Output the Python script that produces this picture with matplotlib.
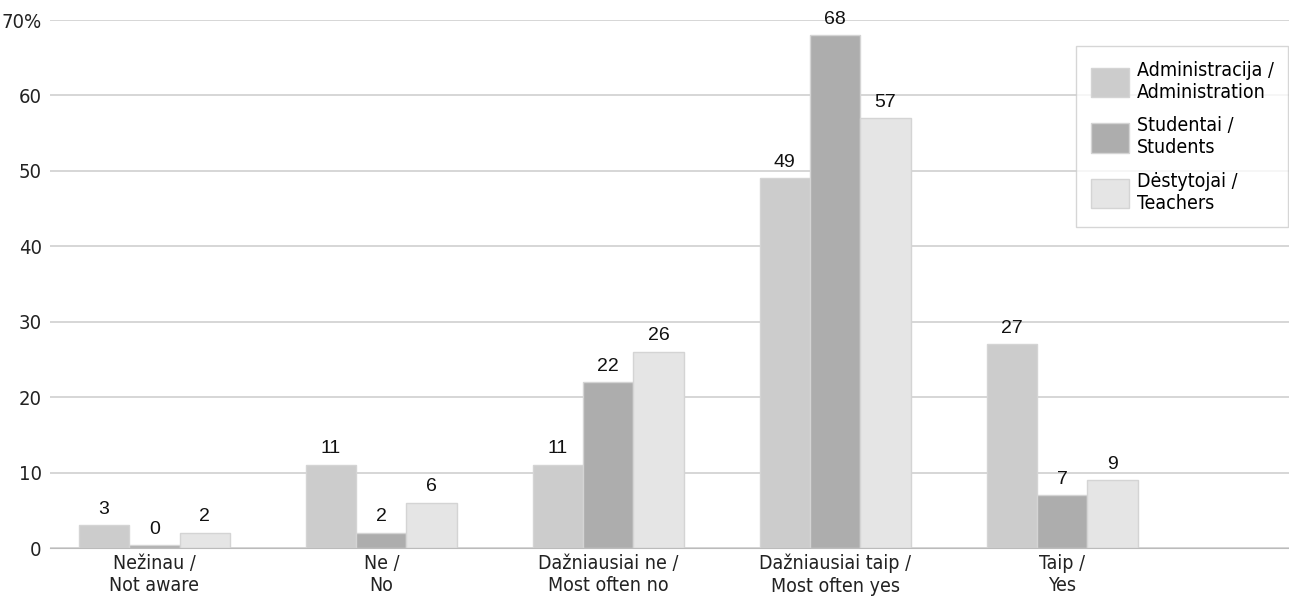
import numpy as np
import matplotlib.pyplot as plt
from matplotlib.patches import Patch

categories = ['Nežinau /\nNot aware', 'Ne /\nNo', 'Dažniausiai ne /\nMost often no',
              'Dažniausiai taip /\nMost often yes', 'Taip /\nYes']
series_names = ['Administracija /\nAdministration', 'Studentai /\nStudents', 'Dėstytojai /\nTeachers']
admin = [3, 11, 11, 49, 27]
students = [0, 2, 22, 68, 7]
teachers = [2, 6, 26, 57, 9]
colors = ['#cccccc', '#adadad', '#e5e5e5']

narrow = ['DejaVu Sans']
plt.rcParams['font.family'] = ['Liberation Sans', 'DejaVu Sans']

fig = plt.figure(figsize=(12.89, 6.05), dpi=100)
ax = fig.add_axes([50 / 1289, 1 - 548 / 605, 1 - 50 / 1289, 528 / 605])

x = np.arange(len(categories))
w = 0.222
for k, (vals, c) in enumerate(zip([admin, students, teachers], colors)):
    pos = x + (k - 1) * w
    h = [max(v, 0.35) for v in vals]
    ax.bar(pos, h, width=w, color=c, edgecolor='#d4d4d4', linewidth=1, zorder=3)
    for p, v, hh in zip(pos, vals, h):
        ax.text(p, hh + 1.0, str(v), ha='center', va='bottom', fontsize=14, color='#111111')

ax.set_xlim(-0.46, 5.0)
ax.set_ylim(0, 70)
ax.set_yticks(range(0, 80, 10))
ax.set_yticklabels(['0', '10', '20', '30', '40', '50', '60', '70%'], family=narrow,
                   stretch='condensed', fontsize=14.5)
ax.set_xticks(x)
ax.set_xticklabels(categories, family=narrow, stretch='condensed', fontsize=14, linespacing=1.25)
ax.tick_params(axis='both', length=0, colors='#222222')
ax.tick_params(axis='y', pad=6)
ax.tick_params(axis='x', pad=4)
ax.grid(axis='y', color='#cfcfcf', linewidth=1.2, zorder=0)
for s in ['top', 'right', 'left']:
    ax.spines[s].set_visible(False)
ax.spines['bottom'].set_color('#bbbbbb')
ax.spines['bottom'].set_zorder(4)

handles = [Patch(facecolor=c, edgecolor='#d4d4d4') for c in colors]
leg = fig.legend(handles, series_names, loc='upper right', bbox_to_anchor=(1288 / 1289, 1 - 46 / 605),
                 borderaxespad=0, prop={'family': narrow, 'stretch': 'condensed', 'size': 14},
                 frameon=True, fancybox=False, handlelength=1.95, handleheight=1.95,
                 labelspacing=0.75, borderpad=0.75, handletextpad=0.4)
leg.get_frame().set_edgecolor('#cccccc')
leg.get_frame().set_linewidth(1)

fig.savefig('out.png', dpi=100)
